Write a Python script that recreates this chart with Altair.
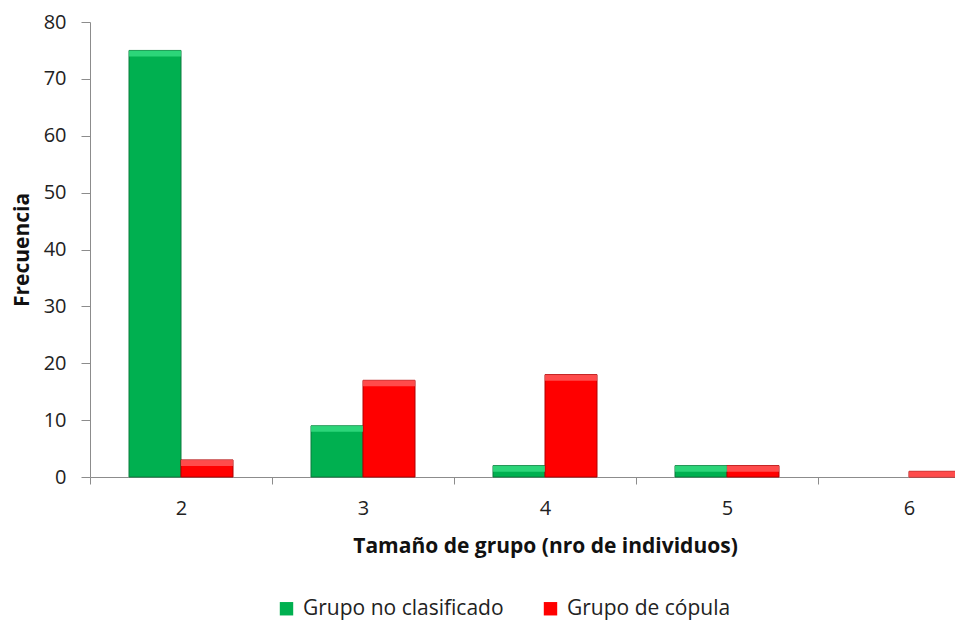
import altair as alt
import pandas as pd

# Group size categories and frequencies per group type
sizes = ["2", "3", "4", "5", "6"]
unclassified = [75, 9, 2, 2, 0]
mating = [3, 17, 18, 2, 1]
series = ["Grupo no clasificado", "Grupo de cópula"]

colors = ["#00B050", "#FF0000"]
highlights = ["#3FE68A", "#FF6B6B"]
edges = ["#0B7A3C", "#B00000"]

rows = []
for name, vals in zip(series, [unclassified, mating]):
    for k, v in zip(sizes, vals):
        rows.append({"size": k, "series": name, "value": v})
df = pd.DataFrame(rows)

FONT = "Open Sans"

x_enc = alt.X(
    "size:N",
    sort=sizes,
    scale=alt.Scale(range=[0, 910], paddingInner=0, paddingOuter=0),
    axis=alt.Axis(
        title="Tamaño de grupo (nro de individuos)",
        labelAngle=0,
        tickBand="extent",
        tickSize=7,
        labelPadding=14,
        titlePadding=17,
    ),
)
xoff = alt.XOffset("series:N", sort=series,
                   scale=alt.Scale(paddingInner=0, paddingOuter=0.75))
y_enc = alt.Y(
    "value:Q",
    scale=alt.Scale(domain=[0, 80]),
    axis=alt.Axis(
        title="Frecuencia",
        values=list(range(0, 81, 10)),
        tickSize=9,
        labelPadding=15,
        titlePadding=11,
        grid=False,
    ),
)

base = alt.Chart(df).transform_filter("datum.value > 0")

bars = base.mark_bar(strokeWidth=1).encode(
    x=x_enc,
    xOffset=xoff,
    y=y_enc,
    color=alt.Color(
        "series:N",
        sort=series,
        scale=alt.Scale(domain=series, range=colors),
        legend=alt.Legend(
            title=None,
            orient="none",
            legendX=186,
            legendY=576,
            direction="horizontal",
            symbolType="square",
            symbolSize=180,
            symbolStrokeWidth=0,
            labelFontSize=21,
            labelFont=FONT,
            labelColor="#222222",
            labelLimit=0,
            columnPadding=36,
            labelOffset=6,
        ),
    ),
    stroke=alt.Stroke("series:N", sort=series,
                      scale=alt.Scale(domain=series, range=edges), legend=None),
)

# lighter strip along the top of each bar
tops = base.mark_bar(y2Offset=6).encode(
    x=x_enc,
    xOffset=xoff,
    y=alt.Y("value:Q"),
    y2=alt.Y2("value"),
    color=alt.Color("series:N", sort=series,
                    scale=alt.Scale(domain=series, range=highlights), legend=None),
    opacity=alt.value(0.7),
)

chart = (
    alt.layer(bars, tops)
    .resolve_scale(color="independent")
    .properties(
        width=865,
        height=455,
        autosize=alt.AutoSizeParams(type="none"),
        padding={"left": 90, "top": 22, "right": 0, "bottom": 146},
    )
    .configure_view(stroke=None)
    .configure_axis(
        labelFont=FONT,
        titleFont=FONT,
        labelFontSize=20,
        titleFontSize=21,
        titleFontWeight="bold",
        labelColor="#222222",
        titleColor="#111111",
        domainColor="#8C8C8C",
        tickColor="#8C8C8C",
    )
)

chart.save("out.html", embed_options={"renderer": "svg", "actions": False})
